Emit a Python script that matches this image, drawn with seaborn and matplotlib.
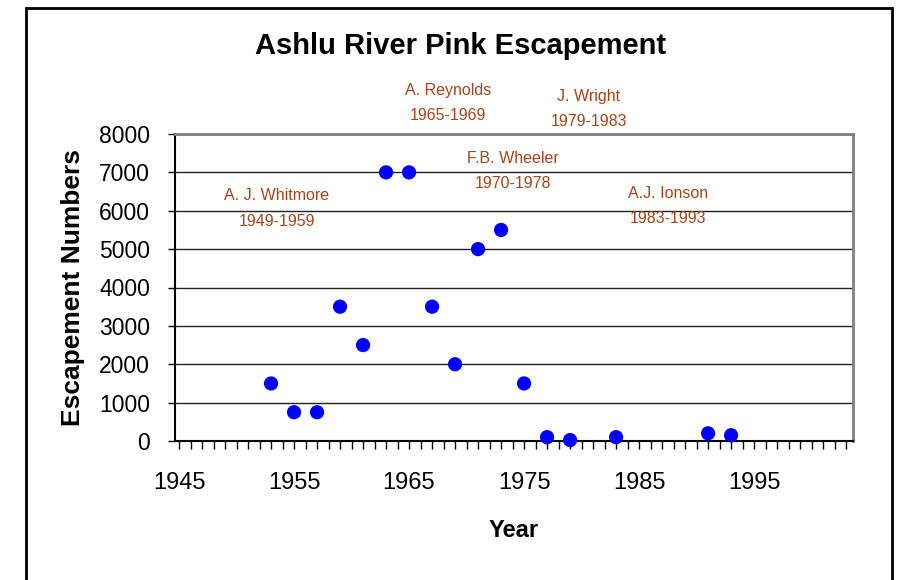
import matplotlib
matplotlib.use("Agg")
import matplotlib.pyplot as plt
from matplotlib.patches import Rectangle
import seaborn as sns
import pandas as pd
import numpy as np

years = [1953, 1955, 1957, 1959, 1961, 1963, 1965, 1967, 1969, 1971, 1973,
         1975, 1977, 1979, 1983, 1991, 1993]
escapement = [1500, 750, 750, 3500, 2500, 7000, 7000, 3500, 2000, 5000, 5500,
              1500, 100, 25, 100, 200, 150]
x_ticks = [1945, 1955, 1965, 1975, 1985, 1995]
y_ticks = [0, 1000, 2000, 3000, 4000, 5000, 6000, 7000, 8000]
ann_names = ["A. J. Whitmore", "A. Reynolds", "J. Wright", "F.B. Wheeler", "A.J. Ionson"]
ann_years = ["1949-1959", "1965-1969", "1979-1983", "1970-1978", "1983-1993"]

sns.set_style("white")
plt.rcParams['font.family'] = ['Liberation Sans', 'DejaVu Sans']
plt.rcParams['text.color'] = 'black'
plt.rcParams['axes.labelcolor'] = 'black'
plt.rcParams['xtick.color'] = 'black'
plt.rcParams['ytick.color'] = 'black'

df = pd.DataFrame({"Year": years, "Escapement": escapement})

fig = plt.figure(figsize=(8.99, 5.80), dpi=100)
ax = fig.add_axes([175/899, 1-441/580, (853-175)/899, (441-134)/580])

sns.scatterplot(data=df, x="Year", y="Escapement", ax=ax, color="#0000FF",
                s=105, edgecolor="none", zorder=3, clip_on=False)

ax.set_xlim(1944.65, 2003.6)
ax.set_ylim(0, 8000)
ax.set_xticks(x_ticks)
ax.set_xticks(np.arange(1945, 2004), minor=True)
ax.set_yticks(y_ticks)
ax.set_xticklabels([str(t) for t in x_ticks], fontsize=17)
ax.set_yticklabels([str(t) for t in y_ticks], fontsize=16.5)
ax.tick_params(axis='x', which='both', direction='out', length=6, width=1,
               color='black', bottom=True, pad=16)
ax.tick_params(axis='y', which='major', direction='out', length=5, width=1,
               color='black', left=True, pad=13)

ax.yaxis.grid(True, color='#222222', linewidth=1)
ax.set_axisbelow(True)
for side in ['top', 'right']:
    ax.spines[side].set_color('#808080')
    ax.spines[side].set_linewidth(2)
for side in ['left', 'bottom']:
    ax.spines[side].set_color('black')
    ax.spines[side].set_linewidth(1.5)

ax.set_xlabel("Year", fontsize=17, fontweight='bold', labelpad=18)
ax.set_ylabel("Escapement Numbers", fontsize=19, fontweight='bold', labelpad=10)

fig.text(461/899, 1-46/580, "Ashlu River Pink Escapement", fontsize=21,
         fontweight='bold', ha='center', va='center', color='black')

ann_pos = [(277, 196), (448, 91), (589, 96), (513, 159), (668, 194)]
brown = "#A5441B"
for (px, py), nm, yr in zip(ann_pos, ann_names, ann_years):
    fig.text(px/899, 1-py/580, nm, fontsize=11.5, color=brown, ha='center', va='center')
    fig.text(px/899, 1-(py+25)/580, yr, fontsize=11.5, color=brown, ha='center', va='center')

fig.patches.append(Rectangle((26/899, -0.1), (892-26)/899, 1.1-8/580,
                             transform=fig.transFigure, fill=False,
                             edgecolor='black', linewidth=2))

fig.savefig("out.png", dpi=100)
